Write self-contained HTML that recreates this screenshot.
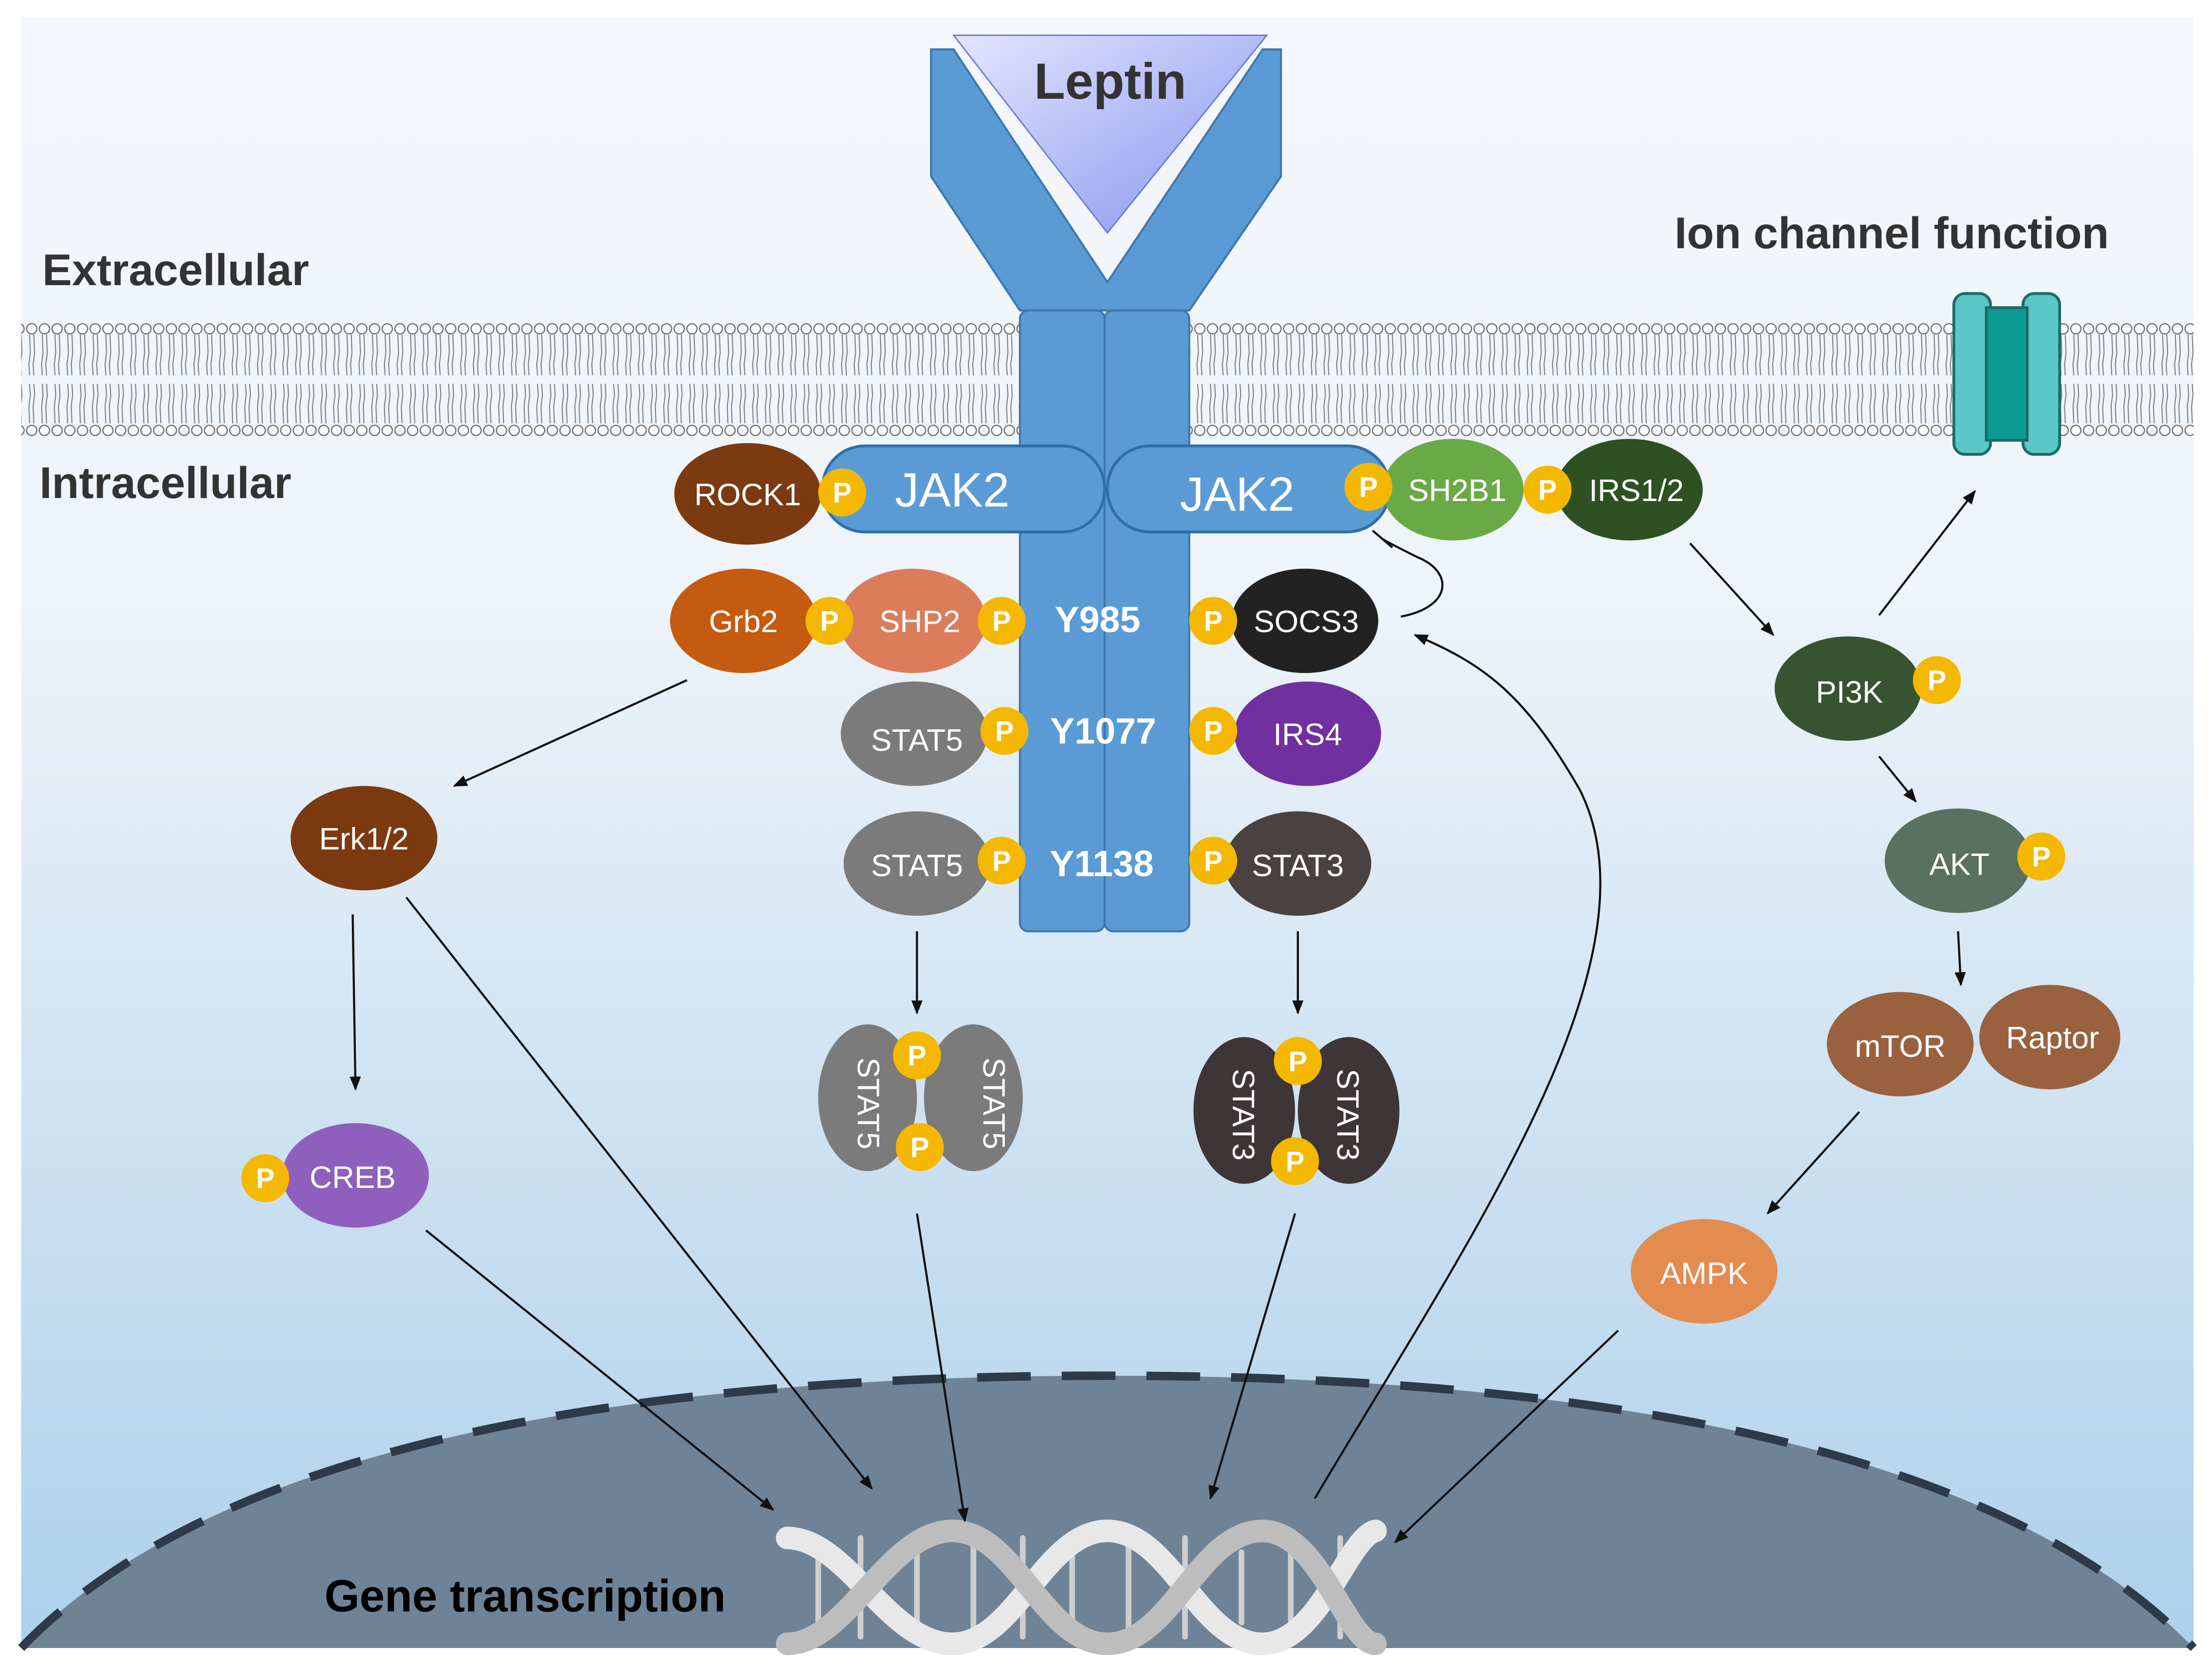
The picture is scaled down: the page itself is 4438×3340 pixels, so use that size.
<!DOCTYPE html>
<html><head><meta charset="utf-8"><style>html,body{margin:0;padding:0;background:#fff}svg{display:block}</style></head><body>
<svg width="4438" height="3340" viewBox="0 0 1568 1180" xmlns="http://www.w3.org/2000/svg" font-family="Liberation Sans, sans-serif">
<defs>
<linearGradient id="bg" x1="0" y1="0" x2="0" y2="1"><stop offset="0" stop-color="#f4f7fb"/><stop offset="0.35" stop-color="#eef4fa"/><stop offset="1" stop-color="#aed0ea"/></linearGradient>
<linearGradient id="lep" x1="0" y1="0" x2="1" y2="1"><stop offset="0" stop-color="#e4e6ff"/><stop offset="1" stop-color="#8593ee"/></linearGradient>
<marker id="ar" markerWidth="10" markerHeight="8" refX="9" refY="4" orient="auto" markerUnits="userSpaceOnUse"><path d="M0,0 L10,4 L0,8 Z" fill="#111"/></marker>
<pattern id="lip" x="0" y="228" width="9" height="82" patternUnits="userSpaceOnUse">
<circle cx="4.5" cy="5" r="3.6" fill="#fff" stroke="#666" stroke-width="0.8"/>
<path d="M3,9 L3.5,22 L2.5,30 L3,38 M6,9 L6.5,22 L5.5,30 L6,38" stroke="#777" stroke-width="0.7" fill="none"/>
<path d="M3,44 L3.5,52 L2.5,60 L3,72 M6,44 L6.5,52 L5.5,60 L6,72" stroke="#777" stroke-width="0.7" fill="none"/>
<circle cx="4.5" cy="77" r="3.6" fill="#fff" stroke="#666" stroke-width="0.8"/>
</pattern>
</defs>
<rect x="0" y="0" width="1568" height="1180" fill="#fff"/>
<rect x="15" y="12" width="1540" height="1156" fill="url(#bg)"/>
<rect x="15" y="228" width="1540" height="82" fill="url(#lip)"/>
<path d="M15,1168 Q200,975 785,975 Q1370,975 1555,1168 Z" fill="#6f8397"/>
<path d="M15,1168 Q200,975 785,975 Q1370,975 1555,1168" fill="none" stroke="#2c3a4a" stroke-width="6" stroke-dasharray="38,22"/>
<g fill="none" stroke-linecap="round">
<g stroke="#cfcfcf" stroke-width="4">
<line x1="580" y1="1095" x2="580" y2="1160"/><line x1="610" y1="1090" x2="610" y2="1160"/><line x1="650" y1="1100" x2="650" y2="1150"/><line x1="690" y1="1095" x2="690" y2="1155"/><line x1="725" y1="1090" x2="725" y2="1160"/><line x1="760" y1="1100" x2="760" y2="1150"/><line x1="800" y1="1095" x2="800" y2="1155"/><line x1="840" y1="1090" x2="840" y2="1160"/><line x1="880" y1="1100" x2="880" y2="1150"/><line x1="915" y1="1090" x2="915" y2="1160"/><line x1="950" y1="1090" x2="950" y2="1160"/></g>
<path d="M558,1090 C600,1090 630,1165 675,1165 C720,1165 740,1085 785,1085 C830,1085 850,1165 895,1165 C935,1165 955,1090 975,1085" stroke="#e8e8e8" stroke-width="16"/>
<path d="M558,1165 C600,1165 630,1085 675,1085 C720,1085 740,1165 785,1165 C830,1165 850,1085 895,1085 C935,1085 955,1165 975,1165" stroke="#bdbdbd" stroke-width="16"/>
</g>
<path d="M660,35 L676,35 L785,200 L895,35 L908,35 L908,125 L843,220 L723,220 L660,125 Z" fill="#5b9bd5" stroke="#3f78ad" stroke-width="1.5"/>
<polygon points="676,25 898,25 785,165" fill="url(#lep)" stroke="#6a7ad8" stroke-width="1"/>
<text x="787" y="70" font-size="36" font-weight="bold" fill="#333" text-anchor="middle">Leptin</text>
<rect x="723" y="220" width="60" height="440" rx="6" fill="#5b9bd5" stroke="#3f78ad" stroke-width="1.5"/>
<rect x="783" y="220" width="60" height="440" rx="6" fill="#5b9bd5" stroke="#3f78ad" stroke-width="1.5"/>
<rect x="583" y="316" width="200" height="61" rx="30" fill="#5b9bd5" stroke="#2f6fa8" stroke-width="2"/>
<rect x="785" y="316" width="200" height="61" rx="30" fill="#5b9bd5" stroke="#2f6fa8" stroke-width="2"/>
<text x="675" y="359" font-size="34" fill="#fff" text-anchor="middle">JAK2</text>
<text x="877" y="362" font-size="34" fill="#fff" text-anchor="middle">JAK2</text>
<g font-size="26" font-weight="bold" fill="#fff" text-anchor="middle">
<text x="778" y="448">Y985</text><text x="782" y="527">Y1077</text><text x="781" y="621">Y1138</text></g>
<rect x="1385" y="208" width="26" height="114" rx="8" fill="#5bc8c8" stroke="#1d6b6b" stroke-width="2"/>
<rect x="1434" y="208" width="26" height="114" rx="8" fill="#5bc8c8" stroke="#1d6b6b" stroke-width="2"/>
<rect x="1408" y="218" width="29" height="94" fill="#0d9b92" stroke="#1d6b6b" stroke-width="2"/>
<g font-size="22" fill="#fff" text-anchor="middle">
<ellipse cx="530" cy="350" rx="52" ry="36" fill="#7b3a0f"/><text x="530" y="358">ROCK1</text>
<ellipse cx="1030" cy="347" rx="50" ry="36" fill="#6aaa46"/><text x="1033" y="355">SH2B1</text>
<ellipse cx="1155" cy="347" rx="52" ry="36" fill="#2d5122"/><text x="1160" y="355">IRS1/2</text>
<ellipse cx="527" cy="440" rx="52" ry="37" fill="#c55a11"/><text x="527" y="448">Grb2</text>
<ellipse cx="647" cy="440" rx="52" ry="37" fill="#db7d5b"/><text x="652" y="448">SHP2</text>
<ellipse cx="925" cy="440" rx="52" ry="37" fill="#222"/><text x="926" y="448">SOCS3</text>
<ellipse cx="648" cy="520" rx="52" ry="37" fill="#7b7b7b"/><text x="650" y="532">STAT5</text>
<ellipse cx="927" cy="520" rx="52" ry="37" fill="#7030a0"/><text x="927" y="528">IRS4</text>
<ellipse cx="650" cy="612" rx="52" ry="37" fill="#7b7b7b"/><text x="650" y="621">STAT5</text>
<ellipse cx="920" cy="612" rx="52" ry="37" fill="#4a4141"/><text x="920" y="621">STAT3</text>
<ellipse cx="258" cy="594" rx="52" ry="37" fill="#7b3a0f"/><text x="258" y="602">Erk1/2</text>
<ellipse cx="252" cy="833" rx="52" ry="37" fill="#8e5fbd"/><text x="250" y="842">CREB</text>
<ellipse cx="1310" cy="488" rx="52" ry="37" fill="#37532f"/><text x="1311" y="498">PI3K</text>
<ellipse cx="1388" cy="610" rx="52" ry="37" fill="#5a7060"/><text x="1389" y="620">AKT</text>
<ellipse cx="1453" cy="735" rx="50" ry="37" fill="#9a613f"/><text x="1455" y="743">Raptor</text>
<ellipse cx="1347" cy="740" rx="52" ry="37" fill="#9a613f"/><text x="1347" y="749">mTOR</text>
<ellipse cx="1208" cy="901" rx="52" ry="37" fill="#e48b50"/><text x="1208" y="910">AMPK</text>
<ellipse cx="615" cy="778" rx="35" ry="52" fill="#7b7b7b"/><ellipse cx="690" cy="778" rx="35" ry="52" fill="#7b7b7b"/>
<text transform="translate(608,782) rotate(90)" text-anchor="middle">STAT5</text>
<text transform="translate(697,782) rotate(90)" text-anchor="middle">STAT5</text>
<ellipse cx="882" cy="787" rx="36" ry="52" fill="#3e3636"/><ellipse cx="956" cy="787" rx="36" ry="52" fill="#3e3636"/>
<text transform="translate(874,790) rotate(90)" text-anchor="middle">STAT3</text>
<text transform="translate(948,790) rotate(90)" text-anchor="middle">STAT3</text>
</g>
<g font-size="20" font-weight="bold" fill="#fff" text-anchor="middle">
<g fill="#f5b800"><circle cx="597" cy="349" r="17"/><circle cx="970" cy="345" r="17"/><circle cx="1097" cy="347" r="17"/><circle cx="588" cy="440" r="17"/><circle cx="710" cy="440" r="17"/><circle cx="860" cy="440" r="17"/><circle cx="712" cy="518" r="17"/><circle cx="860" cy="518" r="17"/><circle cx="710" cy="610" r="17"/><circle cx="860" cy="610" r="17"/><circle cx="650" cy="748" r="17"/><circle cx="652" cy="813" r="17"/><circle cx="920" cy="752" r="17"/><circle cx="918" cy="823" r="17"/><circle cx="188" cy="835" r="17"/><circle cx="1373" cy="482" r="17"/><circle cx="1447" cy="607" r="17"/></g>
<text x="597" y="356">P</text><text x="970" y="352">P</text><text x="1097" y="354">P</text><text x="588" y="447">P</text><text x="710" y="447">P</text><text x="860" y="447">P</text><text x="712" y="525">P</text><text x="860" y="525">P</text><text x="710" y="617">P</text><text x="860" y="617">P</text><text x="650" y="755">P</text><text x="652" y="820">P</text><text x="920" y="759">P</text><text x="918" y="830">P</text><text x="188" y="842">P</text><text x="1373" y="489">P</text><text x="1447" y="614">P</text>
</g>
<g font-weight="bold" fill="#333" font-size="31.5">
<text x="30" y="202">Extracellular</text><text x="28" y="353">Intracellular</text><text x="1187" y="176">Ion channel function</text></g>
<text x="230" y="1142" font-size="32" font-weight="bold" fill="#000">Gene transcription</text>
<g stroke="#111" stroke-width="1.5" fill="none" marker-end="url(#ar)">
<line x1="487" y1="482" x2="322" y2="557"/>
<line x1="250" y1="648" x2="252" y2="772"/>
<line x1="288" y1="636" x2="618" y2="1055"/>
<line x1="302" y1="872" x2="548" y2="1070"/>
<line x1="650" y1="660" x2="650" y2="718"/>
<line x1="920" y1="660" x2="920" y2="718"/>
<line x1="650" y1="860" x2="684" y2="1078"/>
<line x1="918" y1="860" x2="858" y2="1062"/>
<path d="M932,1062 C1040,880 1180,680 1120,560 C1080,490 1050,470 1003,450"/>
<line x1="1198" y1="385" x2="1257" y2="450"/>
<line x1="1332" y1="436" x2="1400" y2="348"/>
<line x1="1332" y1="536" x2="1358" y2="568"/>
<line x1="1388" y1="660" x2="1390" y2="698"/>
<line x1="1318" y1="788" x2="1253" y2="860"/>
<line x1="1147" y1="943" x2="989" y2="1093"/>
</g>
<path d="M993,437 C1030,430 1030,405 1005,395 C995,390 985,385 980,382" stroke="#111" stroke-width="1.5" fill="none"/>
<line x1="973" y1="376" x2="987" y2="388" stroke="#111" stroke-width="1.5"/>
</svg>
</body></html>
